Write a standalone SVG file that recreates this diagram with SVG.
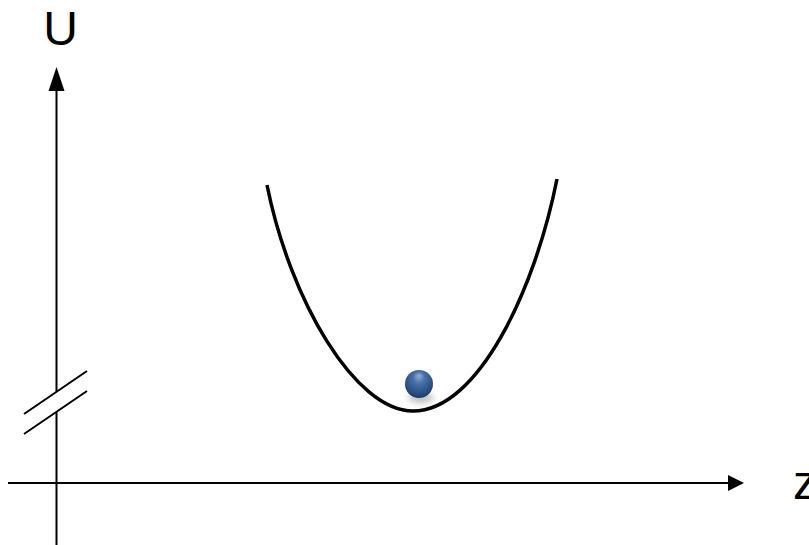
<svg xmlns="http://www.w3.org/2000/svg" width="809" height="545" viewBox="0 0 809 545">
  <style>
    .axis { stroke: #000; stroke-width: 2; fill: none; }
    .curve { stroke: #000; stroke-width: 3.5; fill: none; stroke-linecap: butt; }
    .label { font-family: "Liberation Sans", Arial, sans-serif; font-size: 48px; fill: #000; }
  </style>
  <defs>
    <radialGradient id="ballGrad" cx="0.5" cy="0.4" r="0.6" fx="0.5" fy="0.2">
      <stop offset="0" stop-color="#8fb0dc"/>
      <stop offset="0.35" stop-color="#4a72a8"/>
      <stop offset="0.8" stop-color="#2b4f82"/>
      <stop offset="1" stop-color="#1d3a64"/>
    </radialGradient>
    <filter id="shadowBlur" x="-50%" y="-50%" width="200%" height="200%">
      <feGaussianBlur stdDeviation="3"/>
    </filter>
  </defs>
  <rect width="809" height="545" fill="#fff"/>

  <g id="axes">
    <line class="axis" x1="56.5" y1="88" x2="56.5" y2="392"/>
    <line class="axis" x1="56.5" y1="412" x2="56.5" y2="545"/>
    <polygon points="56.5,67 48.5,91 64.5,91" fill="#000"/>
    <line class="axis" x1="8" y1="483" x2="730" y2="483"/>
    <polygon points="744,483 728,475 728,491" fill="#000"/>
    <line class="axis" x1="24" y1="414" x2="87" y2="371"/>
    <line class="axis" x1="24" y1="434" x2="87" y2="391"/>
  </g>

  <g id="curve">
    <path class="curve" d="M267,185 C290,300 355,411 413,411 C478,411 535,290 557,179"/>
  </g>

  <g id="ball">
    <ellipse cx="421" cy="398" rx="13" ry="5" fill="#000" opacity="0.25" filter="url(#shadowBlur)"/>
    <circle cx="419" cy="384" r="14" fill="url(#ballGrad)"/>
  </g>

  <g id="labels">
    <text class="label" x="60.5" y="45" text-anchor="middle">U</text>
    <text class="label" x="793" y="499">z</text>
  </g>
</svg>
